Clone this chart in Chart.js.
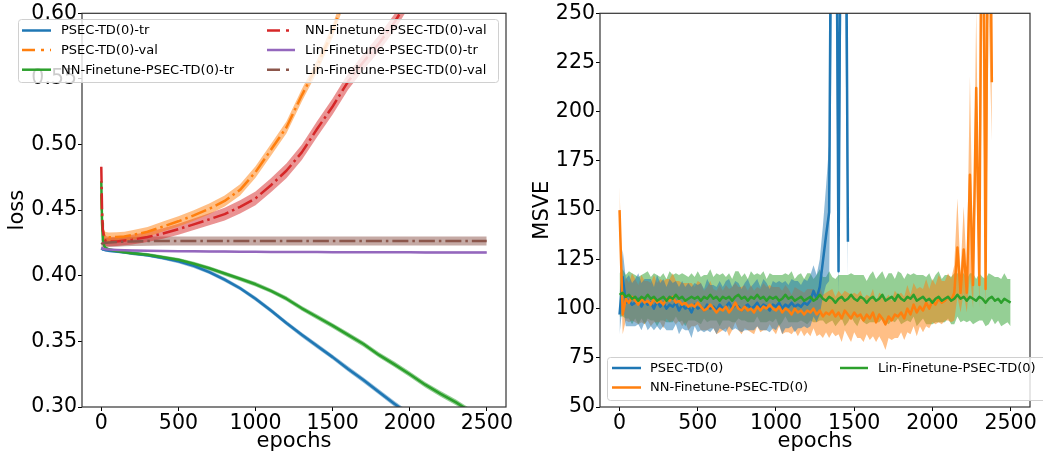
<!DOCTYPE html>
<html lang="en">
<head>
<meta charset="UTF-8">
<title>PSEC-TD(0) loss and MSVE</title>
<script src="https://cdn.jsdelivr.net/npm/chart.js"></script>
<style>
  body { margin: 0; background: #fff; }
  .wrap { position: relative; width: 1043px; height: 454px; overflow: hidden; }
  #lossChart { position: absolute; left: 0; top: 0; }
  #msveChart { position: absolute; left: 520px; top: 0; }
</style>
</head>
<body>
<div class="wrap">
  <canvas id="lossChart" width="520" height="454"></canvas>
  <canvas id="msveChart" width="523" height="454"></canvas>
</div>
<script>
// ---- left panel: loss ----
const lossEpochs = [0, 5, 10, 20, 30, 50, 100, 150, 200,
  300, 400, 500, 600, 700, 800, 900, 1000, 1100, 1200,
  1300, 1400, 1500, 1600, 1700, 1800, 1900, 2000, 2100, 2200,
  2300, 2400, 2499];

const psecTr = [0.4210, 0.4205, 0.4201, 0.4197, 0.4194, 0.4190, 0.4185, 0.4179, 0.4172,
  0.4157, 0.4136, 0.4110, 0.4075, 0.4028, 0.3970, 0.3905, 0.3825, 0.3735, 0.3640,
  0.3550, 0.3465, 0.3380, 0.3290, 0.3205, 0.3115, 0.3025, 0.2940, 0.2855, 0.2770,
  0.2685, 0.2600, 0.2515];
const psecTrSd = [0.0010, 0.0010, 0.0010, 0.0010, 0.0010, 0.0011, 0.0012, 0.0012, 0.0013,
  0.0013, 0.0014, 0.0014, 0.0015, 0.0015, 0.0016, 0.0016, 0.0017, 0.0017, 0.0018,
  0.0018, 0.0019, 0.0019, 0.0020, 0.0020, 0.0020, 0.0021, 0.0021, 0.0021, 0.0022,
  0.0022, 0.0022, 0.0022];

const psecVal = [0.4620, 0.4450, 0.4350, 0.4300, 0.4295, 0.4293, 0.4295, 0.4300, 0.4310,
  0.4335, 0.4375, 0.4415, 0.4460, 0.4510, 0.4570, 0.4655, 0.4790, 0.4960, 0.5130,
  0.5375, 0.5600, 0.5865, 0.6200, 0.6550, null, null, null, null, null,
  null, null, null];
const psecValSd = [0.0060, 0.0050, 0.0045, 0.0040, 0.0038, 0.0036, 0.0036, 0.0036, 0.0036,
  0.0037, 0.0038, 0.0039, 0.0040, 0.0041, 0.0042, 0.0043, 0.0044, 0.0045, 0.0046,
  0.0047, 0.0048, 0.0049, 0.0050, 0.0050, null, null, null, null, null,
  null, null, null];

const nnTr = [0.4720, 0.4400, 0.4280, 0.4225, 0.4210, 0.4200, 0.4188, 0.4180, 0.4172,
  0.4160, 0.4141, 0.4122, 0.4092, 0.4057, 0.4017, 0.3977, 0.3935, 0.3885, 0.3825,
  0.3752, 0.3686, 0.3620, 0.3550, 0.3480, 0.3397, 0.3325, 0.3250, 0.3170, 0.3100,
  0.3035, 0.2960, 0.2890];
const nnTrSd = [0.0012, 0.0012, 0.0011, 0.0010, 0.0010, 0.0011, 0.0012, 0.0012, 0.0013,
  0.0013, 0.0014, 0.0014, 0.0015, 0.0015, 0.0016, 0.0016, 0.0017, 0.0017, 0.0018,
  0.0018, 0.0019, 0.0019, 0.0020, 0.0020, 0.0020, 0.0021, 0.0021, 0.0021, 0.0022,
  0.0022, 0.0022, 0.0022];

const nnVal = [0.4830, 0.4500, 0.4350, 0.4280, 0.4265, 0.4260, 0.4262, 0.4268, 0.4275,
  0.4295, 0.4322, 0.4355, 0.4392, 0.4430, 0.4470, 0.4525, 0.4590, 0.4690, 0.4800,
  0.4940, 0.5120, 0.5290, 0.5480, 0.5630, 0.5770, 0.5930, 0.6120, 0.6300, null,
  null, null, null];
const nnValSd = [0.0060, 0.0050, 0.0045, 0.0040, 0.0038, 0.0036, 0.0036, 0.0036, 0.0037,
  0.0038, 0.0040, 0.0042, 0.0044, 0.0046, 0.0048, 0.0050, 0.0052, 0.0054, 0.0056,
  0.0058, 0.0060, 0.0061, 0.0062, 0.0062, 0.0062, 0.0062, 0.0062, 0.0062, null,
  null, null, null];

const linTr = [0.4210, 0.4208, 0.4206, 0.4204, 0.4202, 0.4200, 0.4197, 0.4195, 0.4193,
  0.4190, 0.4188, 0.4187, 0.4186, 0.4185, 0.4184, 0.4183, 0.4183, 0.4182, 0.4182,
  0.4181, 0.4181, 0.4180, 0.4180, 0.4180, 0.4179, 0.4179, 0.4179, 0.4178, 0.4178,
  0.4178, 0.4178, 0.4178];
const linTrSd = [0.0006, 0.0006, 0.0006, 0.0006, 0.0006, 0.0006, 0.0006, 0.0006, 0.0006,
  0.0006, 0.0006, 0.0006, 0.0006, 0.0006, 0.0006, 0.0006, 0.0006, 0.0006, 0.0006,
  0.0006, 0.0006, 0.0006, 0.0006, 0.0006, 0.0006, 0.0006, 0.0006, 0.0006, 0.0006,
  0.0006, 0.0006, 0.0006];

const linVal = [0.4240, 0.4245, 0.4248, 0.4250, 0.4252, 0.4254, 0.4257, 0.4260, 0.4262,
  0.4264, 0.4265, 0.4265, 0.4265, 0.4265, 0.4265, 0.4265, 0.4265, 0.4265, 0.4265,
  0.4265, 0.4265, 0.4265, 0.4265, 0.4265, 0.4265, 0.4265, 0.4265, 0.4265, 0.4265,
  0.4265, 0.4265, 0.4265];
const linValSd = [0.0035, 0.0035, 0.0035, 0.0035, 0.0035, 0.0035, 0.0035, 0.0035, 0.0035,
  0.0035, 0.0035, 0.0035, 0.0035, 0.0035, 0.0035, 0.0035, 0.0035, 0.0035, 0.0035,
  0.0035, 0.0035, 0.0035, 0.0035, 0.0035, 0.0035, 0.0035, 0.0035, 0.0035, 0.0035,
  0.0035, 0.0035, 0.0035];

const lossNames = ['PSEC-TD(0)-tr', 'PSEC-TD(0)-val', 'NN-Finetune-PSEC-TD(0)-tr',
  'NN-Finetune-PSEC-TD(0)-val', 'Lin-Finetune-PSEC-TD(0)-tr', 'Lin-Finetune-PSEC-TD(0)-val'];
const lossTicks = [0.30, 0.35, 0.40, 0.45, 0.50, 0.55, 0.60];
const lossTickLabels = ['0.30', '0.35', '0.40', '0.45', '0.50', '0.55', '0.60'];

// ---- right panel: MSVE ----
const msveEpochs = [
  0, 20, 40, 60, 80, 100, 120, 140, 160, 180,
  200, 220, 240, 260, 280, 300, 320, 340, 360, 380,
  400, 420, 440, 460, 480, 500, 520, 540, 560, 580,
  600, 620, 640, 660, 680, 700, 720, 740, 760, 780,
  800, 820, 840, 860, 880, 900, 920, 940, 960, 980,
  1000, 1020, 1040, 1060, 1080, 1100, 1120, 1140, 1160, 1180,
  1200, 1220, 1240, 1260, 1280, 1300, 1320, 1340, 1360, 1380,
  1400, 1420, 1440, 1460, 1480, 1500, 1520, 1540, 1560, 1580,
  1600, 1620, 1640, 1660, 1680, 1700, 1720, 1740, 1760, 1780,
  1800, 1820, 1840, 1860, 1880, 1900, 1920, 1940, 1960, 1980,
  2000, 2020, 2040, 2060, 2080, 2100, 2120, 2140, 2160, 2180,
  2200, 2220, 2240, 2260, 2280, 2300, 2320, 2340, 2360, 2380,
  2400, 2420, 2440, 2460, 2480, 2500];

const msvePsec = [
  97, 116, 103, 104, 102, 103, 105, 101, 104, 102,
  103, 100, 104, 101, 103, 100, 102, 101, 103, 99,
  102, 100, 101, 98, 102, 100, 101, 99, 102, 100,
  101, 99, 102, 100, 101, 103, 100, 102, 101, 99,
  101, 102, 100, 101, 103, 100, 102, 101, 99, 102,
  101, 103, 100, 102, 101, 103, 101, 102, 101, 103,
  102, 104, 109, 105, 111, 124, 137, 149, 420, 420,
  119, 420, 420, 134];
const msvePsecSd = [
  10, 14, 12, 13, 11, 12, 13, 12, 11, 13,
  12, 11, 13, 12, 12, 11, 13, 12, 11, 12,
  12, 11, 12, 13, 11, 12, 12, 11, 13, 12,
  11, 12, 12, 11, 13, 12, 11, 12, 12, 11,
  12, 13, 11, 12, 12, 11, 13, 12, 11, 12,
  12, 11, 13, 12, 11, 12, 13, 12, 11, 12,
  12, 13, 13, 12, 14, 18, 25, 35, 150, 150,
  12, 150, 150, 18];

const msveNN = [
  150, 97, 105, 103, 106, 104, 102, 105, 103, 104,
  102, 105, 103, 104, 102, 105, 104, 106, 103, 104,
  102, 103, 101, 102, 101, 103, 101, 99, 100, 102,
  100, 98, 100, 99, 101, 98, 100, 103, 100, 99,
  101, 99, 100, 98, 101, 99, 101, 100, 102, 100,
  99, 101, 98, 100, 99, 97, 100, 98, 99, 97,
  99, 98, 100, 97, 99, 96, 98, 97, 99, 96,
  98, 95, 99, 97, 95, 98, 96, 97, 94, 97,
  95, 98, 93, 97, 95, 92, 96, 94, 97, 96,
  98, 95, 100, 97, 102, 98, 101, 99, 103, 100,
  104, 102, 105, 103, 104, 106, 104, 108, 131, 108,
  130, 108, 168, 112, 212, 112, 400, 110, 400, 215];
const msveNNSd = [
  12, 10, 11, 10, 12, 11, 10, 12, 11, 10,
  11, 12, 10, 11, 12, 10, 11, 12, 11, 10,
  11, 10, 12, 11, 10, 11, 12, 10, 11, 12,
  10, 11, 12, 10, 11, 12, 11, 10, 11, 12,
  11, 10, 12, 11, 10, 11, 12, 11, 10, 11,
  12, 10, 11, 12, 11, 10, 11, 12, 10, 11,
  11, 12, 10, 11, 12, 11, 10, 12, 11, 10,
  11, 12, 10, 11, 12, 10, 11, 12, 11, 10,
  11, 12, 10, 11, 12, 13, 11, 10, 12, 11,
  10, 11, 12, 10, 11, 12, 10, 11, 12, 10,
  11, 10, 12, 11, 10, 12, 11, 14, 25, 10,
  22, 10, 50, 12, 40, 12, 150, 12, 150, 30];

const msveLin = [
  107, 108, 106, 107, 105, 106, 104, 106, 105, 107,
  105, 106, 104, 105, 106, 104, 106, 105, 107, 105,
  106, 104, 105, 106, 105, 106, 104, 106, 105, 107,
  105, 106, 104, 106, 105, 106, 104, 106, 107, 105,
  106, 104, 106, 105, 107, 105, 106, 104, 106, 105,
  106, 104, 105, 107, 105, 106, 104, 105, 106, 104,
  105, 106, 104, 105, 107, 105, 104, 106, 105, 103,
  105, 106, 104, 105, 107, 105, 104, 106, 105, 103,
  105, 106, 104, 105, 107, 104, 105, 106, 104, 107,
  105, 104, 106, 105, 107, 104, 105, 106, 104, 105,
  103, 105, 106, 104, 105, 106, 104, 105, 107, 105,
  106, 104, 106, 105, 104, 106, 105, 103, 105, 106,
  104, 105, 103, 105, 104, 103];
const msveLinSd = [
  11, 12, 11, 12, 13, 11, 12, 11, 13, 12,
  11, 12, 13, 11, 12, 11, 13, 12, 11, 12,
  12, 13, 11, 12, 11, 13, 12, 11, 12, 13,
  11, 12, 13, 12, 11, 12, 11, 13, 12, 11,
  12, 11, 13, 12, 11, 12, 13, 11, 12, 12,
  11, 13, 12, 11, 12, 13, 11, 12, 12, 11,
  13, 12, 11, 12, 13, 11, 12, 13, 11, 12,
  12, 11, 13, 12, 11, 12, 13, 11, 12, 11,
  12, 13, 11, 12, 12, 11, 13, 12, 11, 12,
  13, 11, 12, 12, 11, 13, 12, 11, 12, 13,
  11, 12, 13, 11, 12, 11, 12, 13, 11, 12,
  12, 11, 12, 13, 11, 12, 11, 12, 13, 11,
  12, 11, 12, 13, 11, 12];

const msveNames = ['PSEC-TD(0)', 'NN-Finetune-PSEC-TD(0)', 'Lin-Finetune-PSEC-TD(0)'];
const msveTicks = [50, 75, 100, 125, 150, 175, 200, 225, 250];
const msveTickLabels = ['50', '75', '100', '125', '150', '175', '200', '225', '250'];

const epochTicks = [0, 500, 1000, 1500, 2000, 2500];
const epochTickLabels = ['0', '500', '1000', '1500', '2000', '2500'];

// ---- helpers ----
Chart.defaults.font.family = "'DejaVu Sans', sans-serif";
Chart.defaults.color = '#000';

const C = { blue: '#1f77b4', orange: '#ff7f0e', green: '#2ca02c',
            red: '#d62728', purple: '#9467bd', brown: '#8c564b' };
const dashDot = [16, 4, 2.5, 4];

function rgba(hex, a) {
  const n = parseInt(hex.slice(1), 16);
  return `rgba(${n >> 16},${(n >> 8) & 255},${n & 255},${a})`;
}

function pts(xs, ys) {
  const out = [];
  ys.forEach((y, i) => { if (y != null) out.push({ x: xs[i], y: y }); });
  return out;
}

function band(xs, mean, sd, color) {
  const up = [], lo = [];
  mean.forEach((m, i) => {
    if (m == null || sd[i] == null) return;
    up.push({ x: xs[i], y: m + sd[i] });
    lo.push({ x: xs[i], y: m - sd[i] });
  });
  return [
    { data: up, fill: '+1', backgroundColor: rgba(color, 0.5), borderColor: 'transparent',
      borderWidth: 0, pointRadius: 0, order: 100, clip: 0 },
    { data: lo, fill: false, borderColor: 'transparent', borderWidth: 0,
      pointRadius: 0, order: 100, clip: 0 }
  ];
}

function line(xs, ys, color, dash, order) {
  return { data: pts(xs, ys), borderColor: color, borderWidth: 2.5, borderDash: dash || [],
           pointRadius: 0, fill: false, tension: 0, order: order, clip: 0,
           borderCapStyle: 'butt', borderJoinStyle: 'round' };
}

function xScale() {
  return {
    type: 'linear', min: -125, max: 2624,
    afterBuildTicks: s => { s.ticks = epochTicks.map(v => ({ value: v })); },
    afterFit: s => { s.height = 47; },
    grid: { drawOnChartArea: false, drawTicks: true, tickLength: 4, color: '#000', lineWidth: 1 },
    border: { display: false },
    ticks: { font: { size: 20.5 }, padding: 0, maxRotation: 0, autoSkip: false,
             callback: (v, i) => epochTickLabels[i] },
    title: { display: true, text: 'epochs', font: { size: 21 }, padding: { top: 0, bottom: 0 } }
  };
}

function yScale(min, max, ticks, labels, width, title, titlePad) {
  return {
    type: 'linear', min: min, max: max,
    afterBuildTicks: s => { s.ticks = ticks.map(v => ({ value: v })); },
    afterFit: s => { s.width = width; },
    grid: { drawOnChartArea: false, drawTicks: true, tickLength: 4, color: '#000', lineWidth: 1 },
    border: { display: false },
    ticks: { font: { size: 20.5 }, padding: 1, autoSkip: false,
             callback: (v, i) => labels[i] },
    title: { display: true, text: title, font: { size: 21 }, padding: { top: titlePad, bottom: 0 } }
  };
}

const framePlugin = {
  id: 'frame',
  afterDatasetsDraw(chart) {
    const { ctx, chartArea: a } = chart;
    ctx.save();
    ctx.strokeStyle = '#333';
    ctx.lineWidth = 1.2;
    ctx.strokeRect(a.left, a.top, a.right - a.left, a.bottom - a.top);
    ctx.restore();
  }
};

const boxLegend = {
  id: 'boxLegend',
  afterDraw(chart, args, opts) {
    const { ctx } = chart;
    const b = opts.box;
    ctx.save();
    ctx.beginPath();
    ctx.roundRect(b.x + 0.5, b.y + 0.5, b.w, b.h, 3);
    ctx.fillStyle = 'rgba(255,255,255,0.8)';
    ctx.fill();
    ctx.strokeStyle = '#d0d0d0';
    ctx.lineWidth = 1;
    ctx.stroke();
    ctx.font = "13px 'DejaVu Sans', sans-serif";
    ctx.textBaseline = 'middle';
    opts.items.forEach(it => {
      ctx.beginPath();
      ctx.setLineDash(it.dash || []);
      ctx.lineCap = 'butt';
      ctx.strokeStyle = it.color;
      ctx.lineWidth = 2.5;
      ctx.moveTo(it.x0, it.y);
      ctx.lineTo(it.x1, it.y);
      ctx.stroke();
      ctx.setLineDash([]);
      ctx.fillStyle = '#000';
      ctx.fillText(it.label, it.tx, it.y + 0.5);
    });
    ctx.restore();
  }
};

const legendDash = [13, 6, 3, 6];

// ---- loss chart ----
new Chart(document.getElementById('lossChart'), {
  type: 'line',
  data: {
    datasets: [
      ...band(lossEpochs, psecTr, psecTrSd, C.blue),
      ...band(lossEpochs, psecVal, psecValSd, C.orange),
      ...band(lossEpochs, nnTr, nnTrSd, C.green),
      ...band(lossEpochs, nnVal, nnValSd, C.red),
      ...band(lossEpochs, linTr, linTrSd, C.purple),
      ...band(lossEpochs, linVal, linValSd, C.brown),
      line(lossEpochs, psecTr, C.blue, null, 6),
      line(lossEpochs, psecVal, C.orange, dashDot, 5),
      line(lossEpochs, nnTr, C.green, null, 4),
      line(lossEpochs, nnVal, C.red, dashDot, 3),
      line(lossEpochs, linTr, C.purple, null, 2),
      line(lossEpochs, linVal, C.brown, dashDot, 1)
    ]
  },
  options: {
    responsive: false,
    animation: false,
    events: [],
    layout: { padding: { left: 0, right: 14, top: 13, bottom: 0 } },
    plugins: {
      legend: { display: false },
      tooltip: { enabled: false },
      filler: { drawTime: 'beforeDatasetsDraw' },
      boxLegend: {
        box: { x: 18, y: 19, w: 480, h: 63 },
        items: [
          { label: lossNames[0], color: C.blue, x0: 22, x1: 51, tx: 61, y: 30.5 },
          { label: lossNames[1], color: C.orange, dash: legendDash, x0: 22, x1: 51, tx: 61, y: 50 },
          { label: lossNames[2], color: C.green, x0: 22, x1: 51, tx: 61, y: 69.7 },
          { label: lossNames[3], color: C.red, dash: legendDash, x0: 267, x1: 295, tx: 305, y: 30.5 },
          { label: lossNames[4], color: C.purple, x0: 267, x1: 295, tx: 305, y: 50 },
          { label: lossNames[5], color: C.brown, dash: legendDash, x0: 267, x1: 295, tx: 305, y: 69.7 }
        ]
      }
    },
    scales: {
      x: xScale(),
      y: yScale(0.30, 0.60, lossTicks, lossTickLabels, 82, 'loss', 5)
    }
  },
  plugins: [framePlugin, boxLegend]
});

// ---- MSVE chart ----
new Chart(document.getElementById('msveChart'), {
  type: 'line',
  data: {
    datasets: [
      ...band(msveEpochs, msvePsec, msvePsecSd, C.blue),
      ...band(msveEpochs, msveNN, msveNNSd, C.orange),
      ...band(msveEpochs, msveLin, msveLinSd, C.green),
      line(msveEpochs, msvePsec, C.blue, null, 3),
      line(msveEpochs, msveNN, C.orange, null, 2),
      line(msveEpochs, msveLin, C.green, null, 1)
    ]
  },
  options: {
    responsive: false,
    animation: false,
    events: [],
    layout: { padding: { left: 0, right: 13, top: 13, bottom: 0 } },
    plugins: {
      legend: { display: false },
      tooltip: { enabled: false },
      filler: { drawTime: 'beforeDatasetsDraw' },
      boxLegend: {
        box: { x: 87, y: 357, w: 460, h: 43 },
        items: [
          { label: msveNames[0], color: C.blue, x0: 92, x1: 121, tx: 130, y: 368 },
          { label: msveNames[1], color: C.orange, x0: 92, x1: 121, tx: 130, y: 387.5 },
          { label: msveNames[2], color: C.green, x0: 320, x1: 348, tx: 358, y: 368 }
        ]
      }
    },
    scales: {
      x: xScale(),
      y: yScale(50, 250, msveTicks, msveTickLabels, 80, 'MSVE', 9.5)
    }
  },
  plugins: [framePlugin, boxLegend]
});
</script>
</body>
</html>
